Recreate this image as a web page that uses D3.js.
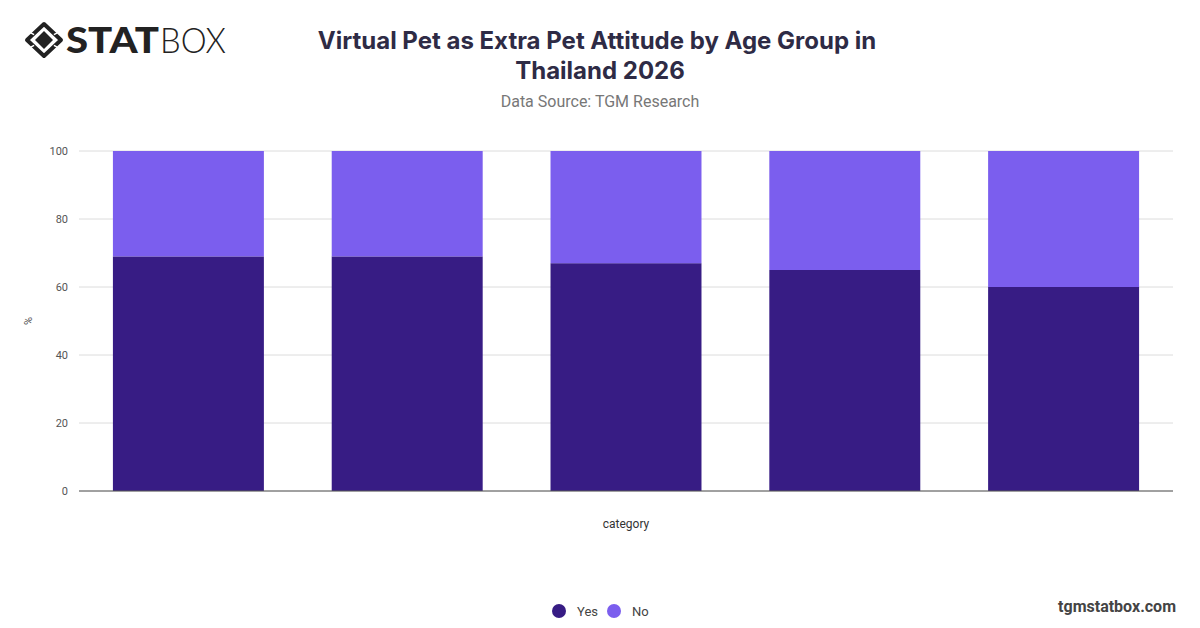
<!DOCTYPE html>
<html>
<head>
<meta charset="utf-8">
<script src="https://cdn.jsdelivr.net/npm/d3@7"></script>
<style>
  body { margin: 0; background: #fff; }
  svg { display: block; font-family: Inter, "Open Sans", sans-serif; }
</style>
</head>
<body>
<svg id="chart" width="1200" height="628"></svg>
<script>
// Chart data
const categories = ["18-24", "25-34", "35-44", "45-54", "55+"];
const yesValues = [69, 69, 67, 65, 60];
const noValues = [31, 31, 33, 35, 40];
const seriesNames = ["Yes", "No"];
const seriesColors = ["#371c84", "#7b5eee"];
const yTicks = [0, 20, 40, 60, 80, 100];

const svg = d3.select("#chart");
const margin = { top: 151, right: 27, bottom: 137, left: 79 };
const width = 1200 - margin.left - margin.right;
const height = 628 - margin.top - margin.bottom;

// Logo
const logo = svg.append("g").attr("transform", "translate(44,40)");
logo.append("path")
    .attr("d", "M0,-16 L17,0 L0,16 L-17,0 Z")
    .attr("fill", "none")
    .attr("stroke", "#222")
    .attr("stroke-width", 4)
    .attr("stroke-linejoin", "round");
logo.append("path")
    .attr("d", "M0,-9 L9,0 L0,9 L-9,0 Z")
    .attr("fill", "#222");
// small white gaps on the frame
[[-11, -6], [11, -6], [-11, 6], [11, 6]].forEach(s => {
    logo.append("line")
        .attr("x1", s[0] * 0.9).attr("y1", s[1] * 0.9)
        .attr("x2", s[0] * 1.2).attr("y2", s[1] * 1.2)
        .attr("stroke", "#fff").attr("stroke-width", 1.5);
});
svg.append("text")
    .attr("x", 66).attr("y", 53)
    .attr("font-family", "Lato, Inter, sans-serif")
    .attr("font-size", 36).attr("font-weight", 900)
    .attr("fill", "#222")
    .attr("textLength", 93)
    .attr("lengthAdjust", "spacingAndGlyphs")
    .text("STAT");
svg.append("text")
    .attr("x", 160).attr("y", 53)
    .attr("font-family", "Lato, Inter, sans-serif")
    .attr("font-size", 35).attr("font-weight", 300)
    .attr("fill", "#222")
    .attr("textLength", 66)
    .attr("lengthAdjust", "spacingAndGlyphs")
    .text("BOX");

// Title
svg.append("text")
    .attr("x", 597).attr("y", 49)
    .attr("text-anchor", "middle")
    .attr("font-size", 24).attr("font-weight", 700)
    .attr("fill", "#2e2b45")
    .text("Virtual Pet as Extra Pet Attitude by Age Group in");
svg.append("text")
    .attr("x", 600).attr("y", 79)
    .attr("text-anchor", "middle")
    .attr("font-size", 24).attr("font-weight", 700)
    .attr("fill", "#2e2b45")
    .text("Thailand 2026");
svg.append("text")
    .attr("x", 600).attr("y", 107)
    .attr("text-anchor", "middle")
    .attr("font-family", "Roboto, sans-serif")
    .attr("font-size", 16)
    .attr("fill", "#777")
    .text("Data Source: TGM Research");

const g = svg.append("g")
    .attr("transform", "translate(" + margin.left + "," + margin.top + ")");

const x = d3.scaleBand()
    .domain(categories)
    .range([0, width])
    .paddingInner(0.31)
    .paddingOuter(0.155);

const y = d3.scaleLinear()
    .domain([0, 100])
    .range([height, 0]);

// Gridlines
g.append("g")
    .selectAll("line")
    .data(yTicks)
    .join("line")
    .attr("x1", 0).attr("x2", width)
    .attr("y1", d => y(d)).attr("y2", d => y(d))
    .attr("stroke", "#dcdcdc")
    .attr("stroke-width", 1);

// Y axis labels
const yAxis = g.append("g")
    .call(d3.axisLeft(y).tickValues(yTicks).tickSize(0).tickPadding(11));
yAxis.select(".domain").remove();
yAxis.selectAll("text")
    .attr("font-size", 11)
    .attr("fill", "#555")
    .attr("font-family", "Roboto, sans-serif");

// Stacked data
const stackData = categories.map((c, i) => ({ category: c, Yes: yesValues[i], No: noValues[i] }));
const stacked = d3.stack().keys(seriesNames)(stackData);

g.append("g")
    .selectAll("g")
    .data(stacked)
    .join("g")
    .attr("fill", (d, i) => seriesColors[i])
    .selectAll("rect")
    .data(d => d)
    .join("rect")
    .attr("x", d => x(d.data.category))
    .attr("y", d => y(d[1]))
    .attr("width", x.bandwidth())
    .attr("height", d => y(d[0]) - y(d[1]));

// Baseline
g.append("line")
    .attr("x1", 0).attr("x2", width)
    .attr("y1", height).attr("y2", height)
    .attr("stroke", "#555")
    .attr("stroke-width", 1);

// Axis titles
svg.append("text")
    .attr("transform", "translate(32,321) rotate(-90)")
    .attr("text-anchor", "middle")
    .attr("font-family", "Roboto, sans-serif")
    .attr("font-size", 11)
    .attr("fill", "#555")
    .text("%");
svg.append("text")
    .attr("x", 626).attr("y", 528)
    .attr("text-anchor", "middle")
    .attr("font-family", "Roboto, sans-serif")
    .attr("font-size", 12)
    .attr("fill", "#333")
    .text("category");

// Legend
const legendX = [559, 614];
seriesNames.forEach((name, i) => {
    svg.append("circle")
        .attr("cx", legendX[i]).attr("cy", 611)
        .attr("r", 7)
        .attr("fill", seriesColors[i]);
    svg.append("text")
        .attr("x", legendX[i] + 18).attr("y", 615.5)
        .attr("font-family", "Roboto, sans-serif")
        .attr("font-size", 13)
        .attr("fill", "#444")
        .text(name);
});

// Footer
svg.append("text")
    .attr("x", 1176).attr("y", 612)
    .attr("text-anchor", "end")
    .attr("font-family", "Roboto, sans-serif")
    .attr("font-size", 16).attr("font-weight", 700)
    .attr("fill", "#444")
    .text("tgmstatbox.com");
</script>
</body>
</html>
